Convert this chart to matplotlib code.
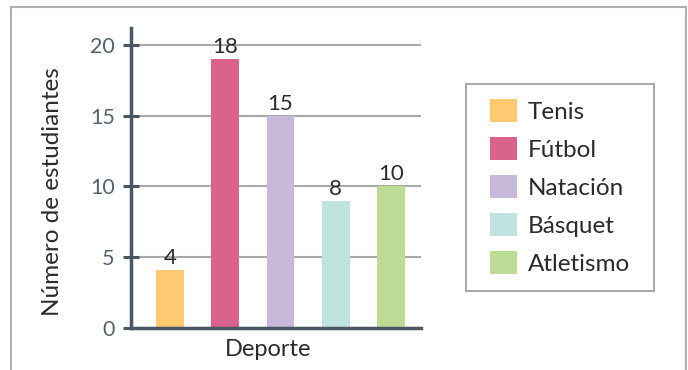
import matplotlib.pyplot as plt
from matplotlib.patches import Patch, Rectangle
from matplotlib.lines import Line2D

plt.rcParams['font.family'] = ['Lato', 'DejaVu Sans']

deportes = ['Tenis', 'Fútbol', 'Natación', 'Básquet', 'Atletismo']
alturas = [4.1, 19, 15, 9, 10]          # altura dibujada de cada barra
etiquetas = ['4', '18', '15', '8', '10']  # numero escrito encima
colores = ['#FDCA72', '#D9638B', '#C6B9DA', '#C0E3E0', '#BCDB95']

W, H = 688, 370
fig = plt.figure(figsize=(W / 100, H / 100), dpi=100)
ax = fig.add_axes([131 / W, (H - 328) / H, 290 / W, 300 / H])

eje = '#4A5661'
x = range(len(deportes))
ax.bar(x, alturas, width=0.5, color=colores, zorder=3)
for i, (h, t) in enumerate(zip(alturas, etiquetas)):
    ax.annotate(t, (i, h), xytext=(0, 1.5), textcoords='offset points',
                ha='center', va='bottom', fontsize=16, color='#2b2b2b', zorder=4)

ax.set_xlim(-0.705, 4.54)
ax.set_ylim(0, 21.2)
ax.set_yticks([0, 5, 10, 15, 20])
ax.set_xticks([])
ax.yaxis.grid(True, color='#A9A9A9', linewidth=1.5, zorder=0)
ax.set_axisbelow(True)
for s in ['top', 'right']:
    ax.spines[s].set_visible(False)
for s in ['left', 'bottom']:
    ax.spines[s].set_color(eje)
    ax.spines[s].set_linewidth(2.5)
    ax.spines[s].set_zorder(5)
ax.tick_params(axis='y', direction='inout', length=11.5, width=2.2, color=eje,
               labelcolor='#55626D', labelsize=15.5, pad=6)

ax.set_xlabel('Deporte', fontsize=17, color='#2b2b2b')
ax.xaxis.set_label_coords((268 - 131) / 290, -0.035)
ax.xaxis.label.set_va('top')
ax.set_ylabel('Número de estudiantes', fontsize=17.5, color='#2b2b2b')
ax.yaxis.set_label_coords((63 - 131) / 290, 0.455)

# leyenda con marco dibujado aparte
handles = [Patch(facecolor=c, edgecolor='none') for c in colores]
leg = fig.legend(handles, deportes, loc='upper left',
                 bbox_to_anchor=(490 / W, (H - 99) / H), frameon=False,
                 fontsize=17.5, handlelength=1.1, handleheight=1.1,
                 handletextpad=0.45, labelspacing=0.58, borderpad=0,
                 borderaxespad=0, labelcolor='#2b2b2b')
fig.add_artist(Rectangle((466 / W, (H - 291) / H), 188 / W, 207 / H,
                         transform=fig.transFigure, fill=False,
                         edgecolor='#ABABAB', linewidth=1.5))

# marco exterior (sin borde inferior)
marco = dict(color='#B0B0B0', linewidth=1.5, transform=fig.transFigure)
fig.add_artist(Line2D([10.7 / W, 10.7 / W], [0, (H - 7) / H], **marco))
fig.add_artist(Line2D([10.7 / W, 685.7 / W], [(H - 7) / H, (H - 7) / H], **marco))
fig.add_artist(Line2D([685.7 / W, 685.7 / W], [(H - 7) / H, 0], **marco))

fig.savefig('out.png', dpi=100)
